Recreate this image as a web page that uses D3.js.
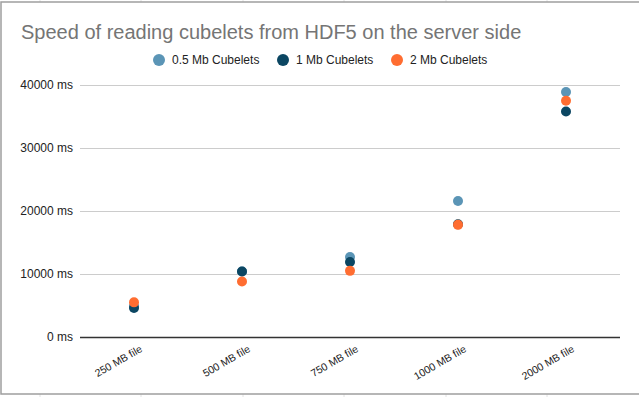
<!DOCTYPE html>
<html>
<head>
<meta charset="utf-8">
<script src="https://cdn.jsdelivr.net/npm/d3@7"></script>
<style>
  body { margin: 0; background: #fff; }
  text { font-family: "Liberation Sans", Arial, sans-serif; }
</style>
</head>
<body>
<script>
// chart data
var categories = ["250 MB file", "500 MB file", "750 MB file", "1000 MB file", "2000 MB file"];
var seriesNames = ["0.5 Mb Cubelets", "1 Mb Cubelets", "2 Mb Cubelets"];
var seriesColors = ["#5b95b6", "#0b4662", "#ff6d31"];
var halfMb = [4900, 10400, 12700, 21600, 38900];
var oneMb = [4600, 10400, 11900, 17900, 35800];
var twoMb = [5500, 8800, 10500, 17800, 37500];
var yTicks = [0, 10000, 20000, 30000, 40000];

var width = 639,
    height = 397;

var svg = d3.select("body")
    .append("svg")
    .attr("width", width)
    .attr("height", height);

// spreadsheet cell lines behind the chart
var cellX = [40, 141, 243, 344, 446, 547];
svg.selectAll("line.cell")
    .data(cellX)
    .enter()
    .append("line")
    .attr("x1", function(d) { return d; })
    .attr("x2", function(d) { return d; })
    .attr("y1", 0)
    .attr("y2", height)
    .attr("stroke", "#e2e2e2");

// chart frame
svg.append("rect")
    .attr("x", 1)
    .attr("y", 2)
    .attr("width", width + 10)
    .attr("height", 392)
    .attr("fill", "#fff")
    .attr("stroke", "#9e9e9e")
    .attr("stroke-width", 1.5);

var x = d3.scaleBand()
    .domain(categories)
    .range([80, 620]);

var y = d3.scaleLinear()
    .domain([0, 40000])
    .range([337, 85]);

// title
svg.append("text")
    .attr("x", 21)
    .attr("y", 39)
    .attr("font-size", "20px")
    .attr("fill", "#757575")
    .text("Speed of reading cubelets from HDF5 on the server side");

// legend
var legendX = [159, 283, 397];
var legend = svg.selectAll("g.legend")
    .data(seriesNames)
    .enter()
    .append("g")
    .attr("transform", function(d, i) { return "translate(" + legendX[i] + ",60)"; });
legend.append("circle")
    .attr("r", 6)
    .attr("fill", function(d, i) { return seriesColors[i]; });
legend.append("text")
    .attr("x", 13)
    .attr("y", 4)
    .attr("font-size", "12px")
    .attr("fill", "#222")
    .text(function(d) { return d; });

// gridlines
svg.selectAll("line.grid")
    .data(yTicks)
    .enter()
    .append("line")
    .attr("x1", 80)
    .attr("x2", 620)
    .attr("y1", function(d) { return Math.round(y(d)) + 0.5; })
    .attr("y2", function(d) { return Math.round(y(d)) + 0.5; })
    .attr("stroke", function(d) { return d === 0 ? "#333" : "#ccc"; })
    .attr("stroke-width", function(d) { return d === 0 ? 1.5 : 1; });

// y labels
svg.selectAll("text.ylab")
    .data(yTicks)
    .enter()
    .append("text")
    .attr("x", 73)
    .attr("y", function(d) { return y(d) + 4; })
    .attr("text-anchor", "end")
    .attr("font-size", "12px")
    .attr("fill", "#222")
    .text(function(d) { return d + " ms"; });

// x labels
svg.selectAll("text.xlab")
    .data(categories)
    .enter()
    .append("text")
    .attr("text-anchor", "end")
    .attr("font-size", "10.5px")
    .attr("fill", "#222")
    .attr("transform", function(d) {
        return "translate(" + (x(d) + x.bandwidth() / 2 + 9) + ",351) rotate(-30)";
    })
    .text(function(d) { return d; });

// points
var allSeries = [halfMb, oneMb, twoMb];
allSeries.forEach(function(values, s) {
    svg.selectAll("circle.s" + s)
        .data(values)
        .enter()
        .append("circle")
        .attr("class", "s" + s)
        .attr("cx", function(d, i) { return x(categories[i]) + x.bandwidth() / 2; })
        .attr("cy", function(d) { return y(d); })
        .attr("r", 5)
        .attr("fill", seriesColors[s]);
});
</script>
</body>
</html>
